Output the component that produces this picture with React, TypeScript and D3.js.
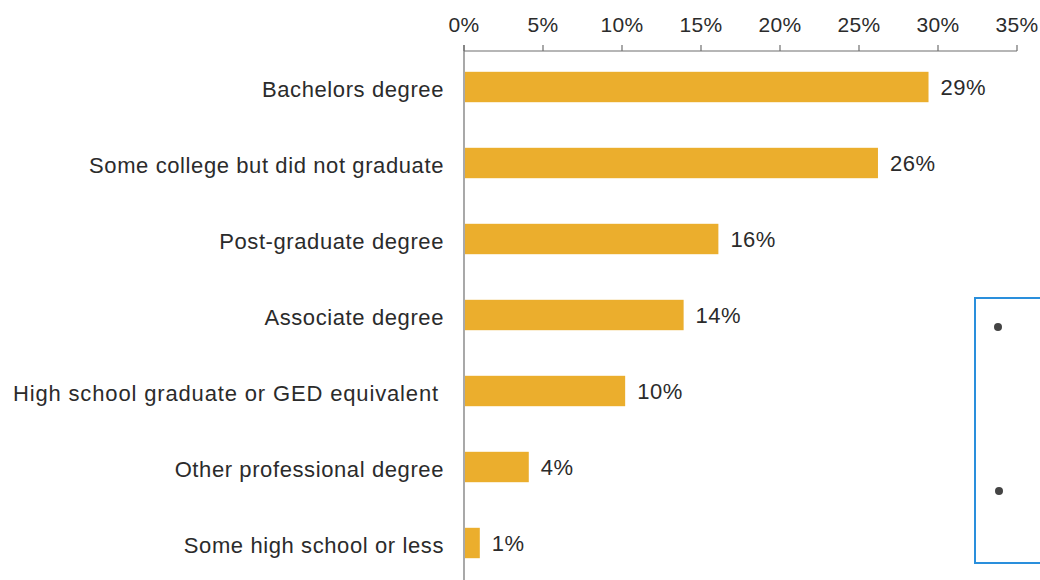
import React from "react";
import * as d3 from "d3";

const categories = [
  "Bachelors degree",
  "Some college but did not graduate",
  "Post-graduate degree",
  "Associate degree",
  "High school graduate or GED equivalent",
  "Other professional degree",
  "Some high school or less",
];
const values = [29.4, 26.2, 16.1, 13.9, 10.2, 4.1, 1.0];
const valueLabels = ["29%", "26%", "16%", "14%", "10%", "4%", "1%"];
const ticks = [0, 5, 10, 15, 20, 25, 30, 35];

const W = 1040;
const H = 580;
const FONT = "'Liberation Sans', Arial, sans-serif";
const BAR = "#EBAE2D";
const TEXT = "#2b2b2b";

export default function App() {
  const x = d3.scaleLinear().domain([0, 35]).range([464, 1017]);
  const y = d3
    .scaleBand<string>()
    .domain(categories)
    .range([49, 581])
    .paddingInner(0.6)
    .paddingOuter(0.3);
  const axisY = 51;

  return (
    <svg
      width={W}
      height={H}
      style={{ position: "absolute", left: 0, top: 0, background: "#fff" }}
      fontFamily={FONT}
    >
      <rect x={0} y={0} width={W} height={H} fill="#fff" />
      {/* top axis */}
      <line x1={x(0)} x2={x(35)} y1={axisY} y2={axisY} stroke="#6f6f6f" strokeWidth={1.2} />
      {ticks.map((t) => (
        <g key={t}>
          <line x1={x(t)} x2={x(t)} y1={axisY} y2={axisY - 6} stroke="#6f6f6f" strokeWidth={1.2} />
          <text
            x={x(t)}
            y={32}
            textAnchor="middle"
            fontSize={21}
            fill={TEXT}
            letterSpacing={0.4}
          >
            {t}%
          </text>
        </g>
      ))}
      {/* left axis */}
      <line x1={x(0)} x2={x(0)} y1={axisY - 6} y2={H} stroke="#6f6f6f" strokeWidth={1.2} />
      {categories.map((c, i) => {
        const yc = (y(c) as number) + y.bandwidth() / 2;
        return (
          <g key={c}>
            <rect
              x={x(0) + 1}
              y={y(c)}
              width={x(values[i]) - x(0) - 1}
              height={y.bandwidth()}
              fill={BAR}
            />
            <text
              x={i === 4 ? 439 : 444}
              y={yc}
              dy="0.45em"
              textAnchor="end"
              fontSize={22}
              fill={TEXT}
              letterSpacing={i === 4 ? 0.85 : 0.6}
            >
              {c}
            </text>
            <text
              x={x(values[i]) + 12}
              y={yc}
              dy="0.35em"
              fontSize={22}
              fill={TEXT}
              letterSpacing={0.5}
            >
              {valueLabels[i]}
            </text>
          </g>
        );
      })}
      {/* side box */}
      <rect x={975} y={298} width={100} height={265} fill="none" stroke="#2A8FDC" strokeWidth={2} />
      <circle cx={998} cy={327} r={4} fill="#444" />
      <circle cx={999} cy={491} r={4} fill="#444" />
    </svg>
  );
}
